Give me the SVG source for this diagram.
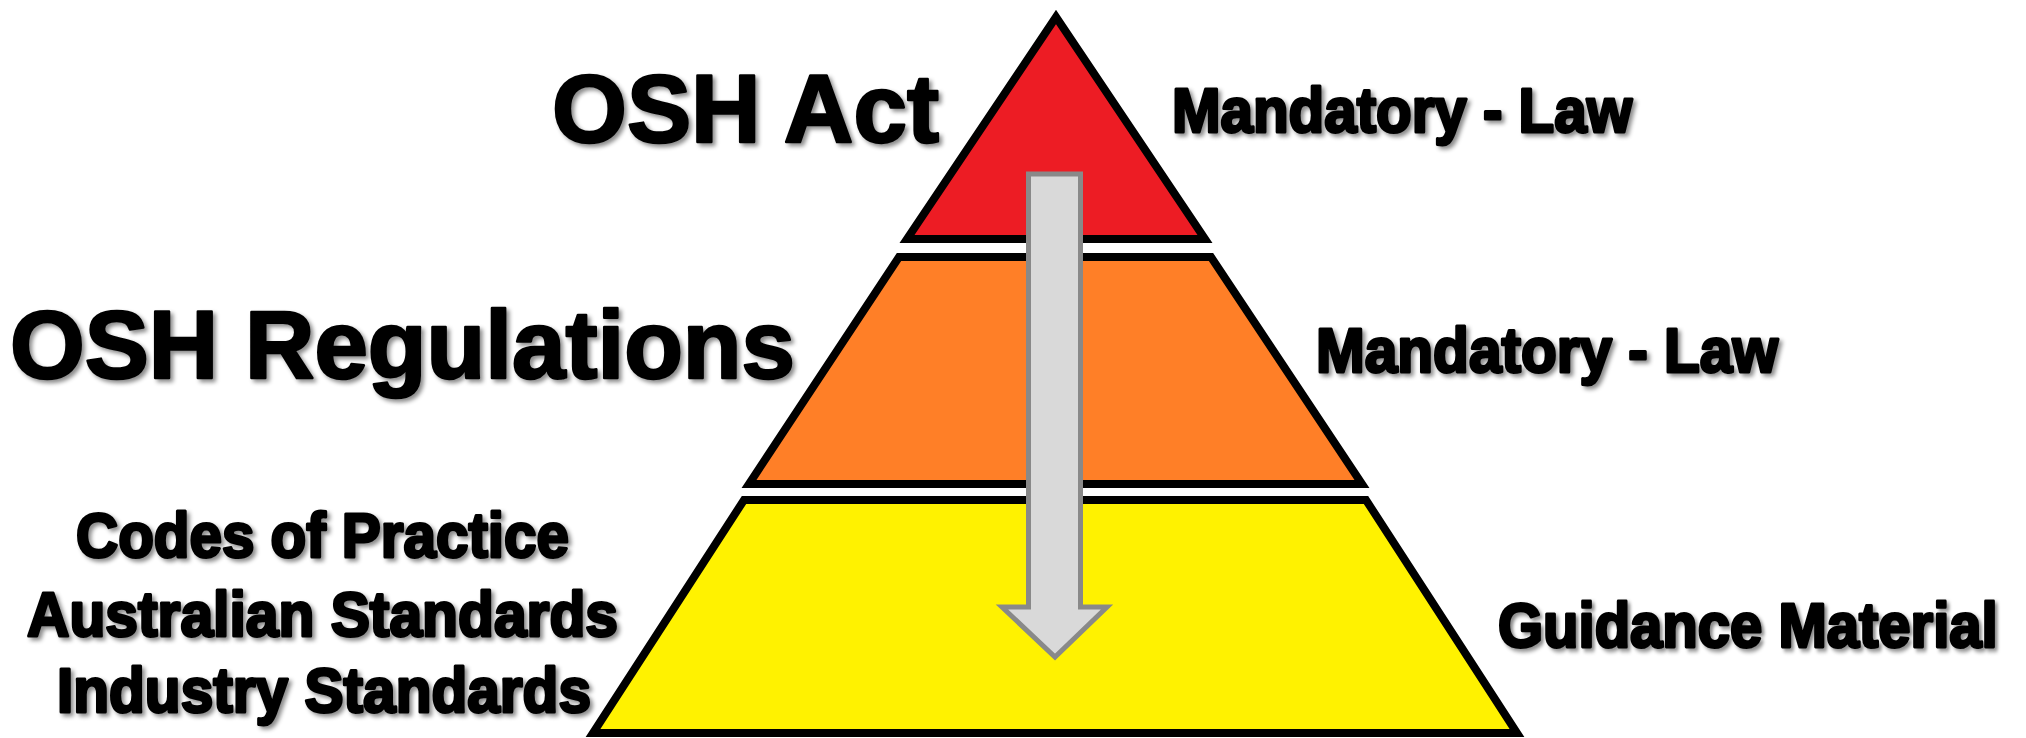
<svg xmlns="http://www.w3.org/2000/svg" width="2026" height="738" viewBox="0 0 2026 738">
  <defs>
    <filter id="shadow" x="-2%" y="-20%" width="104%" height="150%">
      <feDropShadow dx="3" dy="3" stdDeviation="2" flood-color="#000000" flood-opacity="0.45"/>
    </filter>
  </defs>
  <style>
    .layer { stroke: #000000; stroke-width: 8; stroke-linejoin: miter; stroke-miterlimit: 10; }
    .lbl { font-family: "Liberation Sans", Arial, sans-serif; font-weight: bold; fill: #000000; stroke: #000000; stroke-width: 3; stroke-linejoin: round; filter: url(#shadow); }
    .big { font-size: 96px; stroke-width: 2.5; }
    .mid { font-size: 63px; }
    .arrow { fill: #D9D9D9; stroke: #898989; stroke-width: 5; stroke-linejoin: miter; }
  </style>
  <rect x="0" y="0" width="2026" height="738" fill="#FFFFFF"/>

  <g id="layer-act">
    <polygon class="layer" fill="#ED1C24" points="1056,17 907,239 1205,239"/>
  </g>
  <g id="layer-regulations">
    <polygon class="layer" fill="#FF7F27" points="899,257 1211,257 1362,484 749,484"/>
  </g>
  <g id="layer-guidance">
    <polygon class="layer" fill="#FFF200" points="744,500 1366,500 1517,733 593,733"/>
  </g>

  <g id="connectors">
    <path class="arrow" d="M1028.5,174 H1080.5 V607 H1107 L1055,657 L1002,607 H1028.5 Z"/>
  </g>

  <g id="label-osh-act">
    <text class="lbl big" x="552" y="142" textLength="387" lengthAdjust="spacingAndGlyphs">OSH Act</text>
  </g>
  <g id="label-osh-regulations">
    <text class="lbl big" x="10" y="378" textLength="785" lengthAdjust="spacingAndGlyphs">OSH Regulations</text>
  </g>
  <g id="label-mandatory-1">
    <text class="lbl mid" x="1172" y="132" textLength="460" lengthAdjust="spacingAndGlyphs">Mandatory - Law</text>
  </g>
  <g id="label-mandatory-2">
    <text class="lbl mid" x="1316" y="372" textLength="462" lengthAdjust="spacingAndGlyphs">Mandatory - Law</text>
  </g>
  <g id="label-guidance">
    <text class="lbl mid" transform="translate(1498,647) scale(0.921,1)" x="0" y="0">Guidance Material</text>
  </g>
  <g id="label-left-group">
    <text class="lbl mid" x="76" y="557" textLength="493" lengthAdjust="spacingAndGlyphs">Codes of Practice</text>
    <text class="lbl mid" x="27" y="636" textLength="591" lengthAdjust="spacingAndGlyphs">Australian Standards</text>
    <text class="lbl mid" x="57" y="712" textLength="534" lengthAdjust="spacingAndGlyphs">Industry Standards</text>
  </g>
</svg>
